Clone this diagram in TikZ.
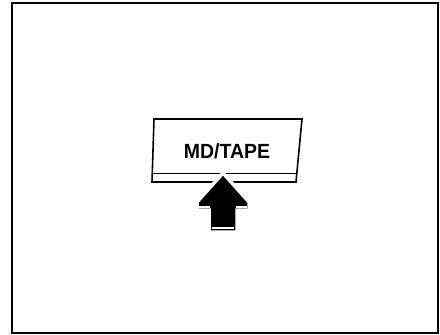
\documentclass[tikz,border=0pt]{standalone}
\usepackage{fontspec}
\setmainfont{Liberation Sans}
\begin{document}
\begin{tikzpicture}[x=1pt,y=-1pt,
  thinline/.style={line width=1.6pt,line join=miter},
  lbl/.style={font=\bfseries\fontsize{20.5}{24}\selectfont,inner sep=0pt}]
\useasboundingbox (0,0) rectangle (440,335);
% frame
\draw[line width=1.2pt] (12,3) rectangle (438,333);
% button
\draw[thinline] (154,119) -- (302,119) -- (296,182) -- (152,182) -- cycle;
\draw[line width=1pt] (153,173) -- (297,173);
\node[lbl,xscale=0.95] (label) at (227,151) {MD/TAPE};
% arrow
\filldraw[fill=black,draw=white,line width=3.5pt,line join=miter]
  (223,173) -- (249,202) -- (249,210) -- (237,210) -- (237,232)
  -- (209,232) -- (209,210) -- (197,210) -- (197,202) -- cycle;
\draw[white,line width=1.2pt] (199,207) -- (210,207)
  (236,207) -- (247,207) (212,228) -- (234,228);
\end{tikzpicture}
\end{document}
